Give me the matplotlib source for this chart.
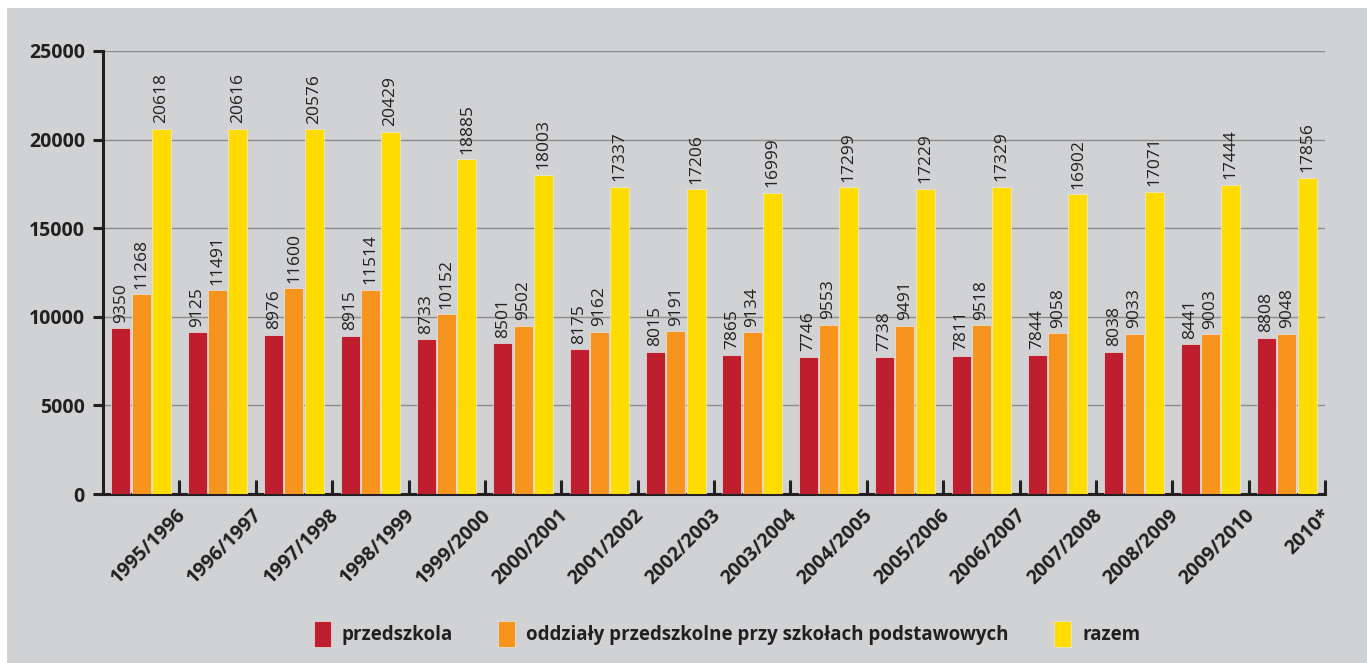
import numpy as np
import matplotlib.pyplot as plt
from matplotlib.patches import Rectangle

# ==== dane ====
YEARS = ["1995/1996", "1996/1997", "1997/1998", "1998/1999", "1999/2000",
         "2000/2001", "2001/2002", "2002/2003", "2003/2004", "2004/2005",
         "2005/2006", "2006/2007", "2007/2008", "2008/2009", "2009/2010",
         "2010*"]
PRZEDSZKOLA = [9350, 9125, 8976, 8915, 8733, 8501, 8175, 8015, 7865, 7746,
               7738, 7811, 7844, 8038, 8441, 8808]
ODDZIALY = [11268, 11491, 11600, 11514, 10152, 9502, 9162, 9191, 9134, 9553,
            9491, 9518, 9058, 9033, 9003, 9048]
RAZEM = [20618, 20616, 20576, 20429, 18885, 18003, 17337, 17206, 16999, 17299,
         17229, 17329, 16902, 17071, 17444, 17856]
SERIES = ["przedszkola", "oddziały przedszkolne przy szkołach podstawowych", "razem"]

BG = "#d1d2d4"
COLORS = ["#be1e2d", "#f7941d", "#ffdc00"]
DARK = "#231f20"

plt.rcParams["font.family"] = ["Open Sans", "DejaVu Sans"]

fig = plt.figure(figsize=(13.67, 6.63), dpi=100, facecolor="white")
fig.patches.append(Rectangle((7 / 1367, 0), 1, 1 - 8 / 663, transform=fig.transFigure,
                             facecolor=BG, edgecolor="none", zorder=-10))
ax = fig.add_axes([103 / 1367, 1 - 494 / 663, (1325 - 103) / 1367, (494 - 51) / 663])
ax.set_facecolor(BG)

x = np.arange(len(YEARS))
width = 0.25
offsets = [-0.265, 0.0, 0.265]
for data, off, col, name in zip([PRZEDSZKOLA, ODDZIALY, RAZEM], offsets, COLORS, SERIES):
    bars = ax.bar(x + off, data, width, color=col, edgecolor="#e8e8e8",
                  linewidth=0.5, label=name, zorder=3)
    for b, v in zip(bars, data):
        ax.annotate(str(v), (b.get_x() + b.get_width() / 2, v), xytext=(0, 4),
                    textcoords="offset points", rotation=90, ha="center", va="bottom",
                    fontsize=12.5, color=DARK)

ax.set_xlim(-0.5, len(YEARS) - 0.5)
ax.set_ylim(0, 25000)
ax.set_yticks(np.arange(0, 25001, 5000))
ax.grid(axis="y", color="#8c8c8c", linewidth=1, zorder=0)

for s in ["top", "right"]:
    ax.spines[s].set_visible(False)
for s in ["left", "bottom"]:
    ax.spines[s].set_color(DARK)
    ax.spines[s].set_linewidth(2.2)

ax.tick_params(axis="y", direction="out", length=7, width=2.2, color=DARK,
               labelsize=14, pad=6, labelcolor=DARK)
for t in ax.get_yticklabels():
    t.set_fontweight("bold")

# podpisy lat przesunięte w prawo, kreski na granicach grup
ax.set_xticks(x + 0.45)
ax.set_xticklabels(YEARS, rotation=45, ha="right", rotation_mode="anchor",
                   fontsize=14, fontweight="bold", color=DARK)
ax.tick_params(axis="x", which="major", length=0, pad=8)
ax.set_xticks(x + 0.5, minor=True)
ax.tick_params(axis="x", which="minor", direction="in", length=10, width=2.2, color=DARK)

fig.legend(loc="center", bbox_to_anchor=(727 / 1367, 1 - 634 / 663), ncol=3, frameon=False,
           prop={"weight": "bold", "size": 13.5}, handlelength=0.9, handleheight=1.8,
           handletextpad=0.6, columnspacing=2.4, labelcolor=DARK)

fig.savefig("out.png", dpi=100, facecolor=fig.get_facecolor())
